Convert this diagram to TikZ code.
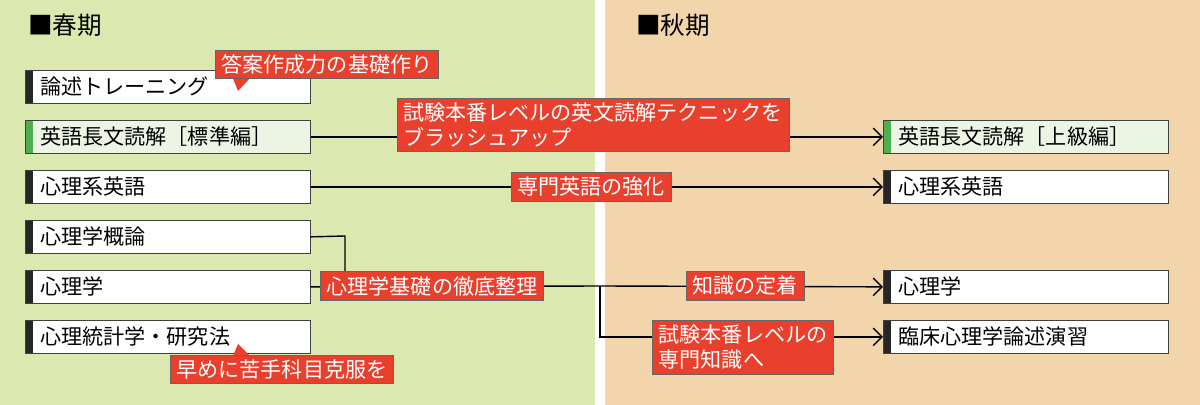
\documentclass[tikz,border=0pt]{standalone}
\usepackage{fontspec}
\setmainfont{Noto Sans CJK JP}
\usetikzlibrary{arrows.meta, positioning, calc}
\definecolor{SpringBg}{RGB}{219,232,176}
\definecolor{AutumnBg}{RGB}{242,213,170}
\definecolor{LabelRed}{RGB}{233,64,45}
\definecolor{LightGreen}{RGB}{236,245,228}
\definecolor{BarGreen}{RGB}{76,175,80}
\tikzset{
  subject/.style={draw=black!75, fill=white, minimum width=5.7cm, minimum height=0.66cm, inner sep=0pt, font=\fontsize{12}{14}\selectfont},
  keyword/.style={draw=black!60, fill=LabelRed, text=white, font=\fontsize{12}{14.5}\selectfont, inner xsep=3.5pt, inner ysep=2.5pt, align=left},
  link/.style={thick, black},
  flow/.style={thick, black, -{Straight Barb[length=5pt,width=10pt]}},
}
% subject box with a coloured bar at its left
\newcommand{\subject}[5]{%
  \node[subject, fill=#5, anchor=north west] (#1) at (#2,#3) {};
  \fill[#4] (#1.north west) rectangle ([xshift=0.16cm]#1.south west);
  \draw[black!75] (#1.north west) rectangle (#1.south east);
}
\begin{document}
\begin{tikzpicture}[x=0.02cm, y=-0.02cm]
  % --- Backgrounds ---
  \fill[SpringBg] (0,0) rectangle (595,405);
  \fill[white] (595,0) rectangle (605,405);
  \fill[AutumnBg] (605,0) rectangle (1200,405);
  \node[anchor=west, font=\fontsize{14}{16}\selectfont] (spring) at (22,25) {■春期};
  \node[anchor=west, font=\fontsize{14}{16}\selectfont] (autumn) at (630,25) {■秋期};

  % --- Spring subjects ---
  \subject{ronjutsu}{25}{70}{black!85}{white}
  \subject{eigoA}{25}{120}{BarGreen}{LightGreen}
  \subject{shinriEigoA}{25}{170}{black!85}{white}
  \subject{gairon}{25}{220}{black!85}{white}
  \subject{shinriA}{25}{270}{black!85}{white}
  \subject{toukei}{25}{320}{black!85}{white}
  \node[subject, draw=none, fill=none, minimum width=0pt, anchor=west] at ([xshift=0.3cm]ronjutsu.west) {論述トレーニング};
  \node[subject, draw=none, fill=none, minimum width=0pt, anchor=west] at ([xshift=0.3cm]eigoA.west) {英語長文読解［標準編］};
  \node[subject, draw=none, fill=none, minimum width=0pt, anchor=west] at ([xshift=0.3cm]shinriEigoA.west) {心理系英語};
  \node[subject, draw=none, fill=none, minimum width=0pt, anchor=west] at ([xshift=0.3cm]gairon.west) {心理学概論};
  \node[subject, draw=none, fill=none, minimum width=0pt, anchor=west] at ([xshift=0.3cm]shinriA.west) {心理学};
  \node[subject, draw=none, fill=none, minimum width=0pt, anchor=west] at ([xshift=0.3cm]toukei.west) {心理統計学・研究法};

  % --- Autumn subjects ---
  \subject{eigoB}{883}{120}{BarGreen}{LightGreen}
  \subject{shinriEigoB}{883}{170}{black!85}{white}
  \subject{shinriB}{883}{270}{black!85}{white}
  \subject{rinshou}{883}{320}{black!85}{white}
  \node[subject, draw=none, fill=none, minimum width=0pt, anchor=west] at ([xshift=0.3cm]eigoB.west) {英語長文読解［上級編］};
  \node[subject, draw=none, fill=none, minimum width=0pt, anchor=west] at ([xshift=0.3cm]shinriEigoB.west) {心理系英語};
  \node[subject, draw=none, fill=none, minimum width=0pt, anchor=west] at ([xshift=0.3cm]shinriB.west) {心理学};
  \node[subject, draw=none, fill=none, minimum width=0pt, anchor=west] at ([xshift=0.3cm]rinshou.west) {臨床心理学論述演習};

  % --- Connectors ---
  \coordinate (split) at (600,286);
  \coordinate (merge) at (345,236);
  \draw[flow] (eigoA.east) -- (eigoB.west);
  \draw[flow] (shinriEigoA.east) -- (shinriEigoB.west);
  \draw[link] (gairon.east) -- (merge) -- (merge |- shinriA.east);
  \draw[link] (shinriA.east) -- (split);
  \draw[flow] (split) -- (shinriB.west);
  \draw[flow] (split) |- (rinshou.west);

  % --- Callouts ---
  \fill[LabelRed] (232,76) -- (238,91) -- (252,76) -- cycle;
  \node[keyword, anchor=south west] (kisoTop) at (215,79) {答案作成力の基礎作り};
  \fill[LabelRed] (232,358) -- (238,344) -- (252,358) -- cycle;
  \node[keyword, anchor=north west] (kisoBot) at (170,355) {早めに苦手科目克服を};

  % --- Labels on the lines ---
  \node[keyword] (brush) at (593,125) {試験本番レベルの英文読解テクニックを\\ブラッシュアップ};
  \node[keyword] (senmon) at (591,187) {専門英語の強化};
  \node[keyword] (seiri) at (432,286) {心理学基礎の徹底整理};
  \node[keyword] (teichaku) at (745,286) {知識の定着};
  \node[keyword] (honban) at (743,347) {試験本番レベルの\\専門知識へ};
\end{tikzpicture}
\end{document}
